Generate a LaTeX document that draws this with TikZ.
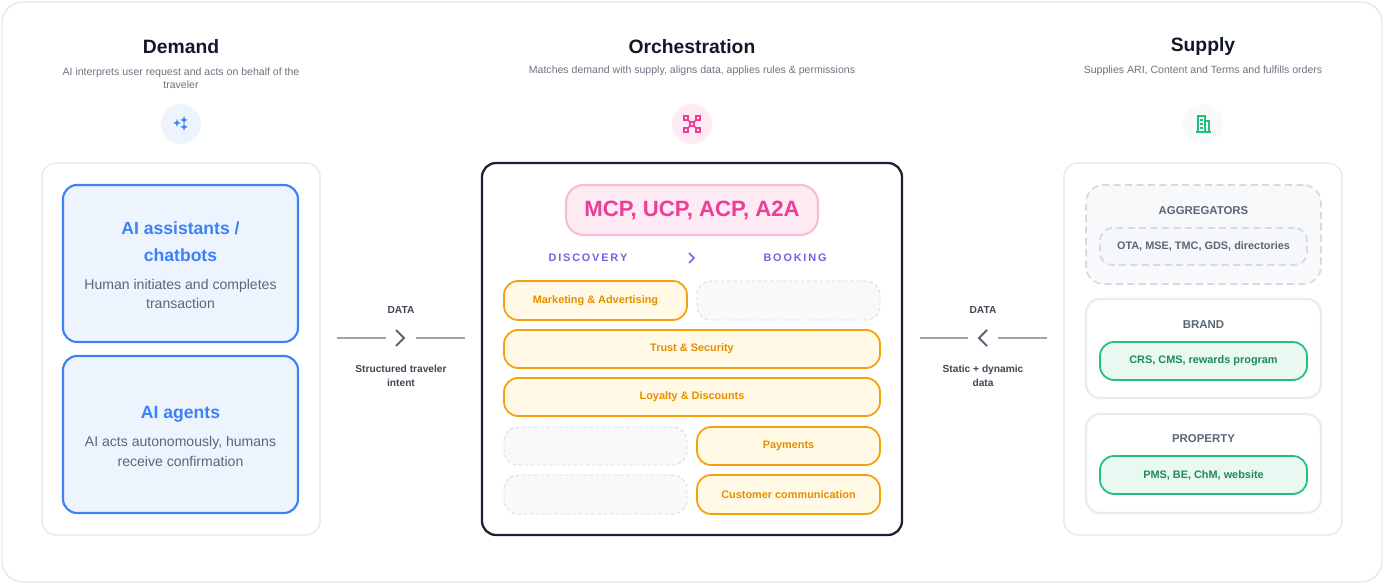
\documentclass[tikz,border=0pt]{standalone}
\usepackage{fontspec}
\setmainfont{Liberation Sans}
\usetikzlibrary{positioning}
\definecolor{framegray}{HTML}{E3E7EE}
\definecolor{panelgray}{HTML}{E8EDF3}
\definecolor{aiblue}{HTML}{3B82F6}
\definecolor{aibluefill}{HTML}{EEF4FE}
\definecolor{navy}{HTML}{1A2233}
\definecolor{mcppink}{HTML}{EC3D97}
\definecolor{mcpfill}{HTML}{FDEAF3}
\definecolor{mcpline}{HTML}{F6BCD8}
\definecolor{stepviolet}{HTML}{7C5CE0}
\definecolor{orangeline}{HTML}{F5A00B}
\definecolor{orangefill}{HTML}{FFF9E5}
\definecolor{orangetext}{HTML}{E58E00}
\definecolor{dashgray}{HTML}{D5DBE4}
\definecolor{emptyfill}{HTML}{F7F9FB}
\definecolor{slate}{HTML}{5B6678}
\definecolor{greenline}{HTML}{22C07A}
\definecolor{greenfill}{HTML}{E9F8F0}
\definecolor{greentext}{HTML}{1E8B57}
\definecolor{ink}{HTML}{111827}
\definecolor{subgray}{HTML}{6B7280}
\newcommand{\px}{0.02cm}
\tikzset{
  box/.style 2 args={rectangle, rounded corners=8pt, inner sep=0pt,
    minimum width=#1*\px, minimum height=#2*\px},
  panel/.style={draw=panelgray, line width=1pt, fill=white, rounded corners=16pt},
  aibox/.style={draw=aiblue, line width=1.2pt, fill=aibluefill, rounded corners=9pt},
  orangebox/.style={draw=orangeline, line width=1pt, fill=orangefill, rounded corners=6pt,
    text=orangetext, font=\fontsize{6.2}{7}\selectfont\bfseries},
  emptybox/.style={draw=dashgray, dash pattern=on 2pt off 1.5pt, line width=0.5pt, fill=emptyfill, rounded corners=6pt},
  greenbox/.style={draw=greenline, line width=1pt, fill=greenfill, rounded corners=6pt,
    text=greentext, font=\fontsize{6.2}{7}\selectfont\bfseries},
  suppbox/.style={draw=panelgray, line width=1.3pt, fill=white, rounded corners=9pt},
  coltitle/.style={font=\fontsize{11}{13}\selectfont\bfseries, text=ink},
  colsub/.style={font=\fontsize{6}{7.6}\selectfont, text=subgray, align=center},
  boxtitle/.style={font=\fontsize{10}{15.5}\selectfont\bfseries, text=aiblue, align=center},
  boxtext/.style={font=\fontsize{8}{11}\selectfont, text=slate, align=center},
  smallcap/.style={font=\fontsize{6.5}{8}\selectfont\bfseries, text=slate},
  datatext/.style={font=\fontsize{5.8}{8}\selectfont\bfseries, text=ink!80, align=center},
  dataline/.style={draw=slate!60, line width=0.8pt},
  iconbg/.style={circle, minimum size=40*\px, inner sep=0pt},
}
\begin{document}
\begin{tikzpicture}[x=\px, y=-\px]
    \useasboundingbox (0,0) rectangle (1384,584);
    \draw [framegray, line width=0.8pt, rounded corners=12pt] (2,2) rectangle (1382,582);
    % column headings
    \node [coltitle] (demandtitle) at (181,47) {Demand};
    \node [colsub] (demandsub) at (181,78) {AI interprets user request and acts on behalf of the\\traveler};
    \node [coltitle] (orchtitle) at (692,47) {Orchestration};
    \node [colsub] (orchsub) at (692,71) {Matches demand with supply, aligns data, applies rules \& permissions};
    \node [coltitle] (supplytitle) at (1203,47) {Supply};
    \node [colsub] (supplysub) at (1203,71) {Supplies ARI, Content and Terms and fulfills orders};
    % icons
    \node [iconbg, fill=aibluefill] (demandicon) at (181,124) {};
    \fill [aiblue] (177,119) -- (178,122) -- (181,123) -- (178,124) -- (177,127) -- (176,124) -- (173,123) -- (176,122) -- cycle
      (184,116) -- (185,119) -- (188,120) -- (185,121) -- (184,124) -- (183,121) -- (180,120) -- (183,119) -- cycle
      (184,123) -- (185,126) -- (188,127) -- (185,128) -- (184,131) -- (183,128) -- (180,127) -- (183,126) -- cycle;
    \node [iconbg, fill=mcpfill] (orchicon) at (692,124) {};
    \draw [mcppink, line width=0.9pt] (686,118) -- (698,130) (698,118) -- (686,130);
    \foreach \ix/\iy in {686/118, 698/118, 686/130, 698/130, 692/124}
      \draw [mcppink, line width=0.9pt, fill=mcpfill] (\ix-2,\iy-2) rectangle (\ix+2,\iy+2);
    \node [iconbg, fill=emptyfill] (supplyicon) at (1203,124) {};
    \draw [greenline, line width=0.8pt] (1196,132) -- (1211,132) (1198,132) -- (1198,116) -- (1205,116) -- (1205,132)
      (1205,121) -- (1209,121) -- (1209,132) (1200,120) -- (1203,120) (1200,124) -- (1203,124) (1200,128) -- (1203,128);
    % demand column
    \node [panel, box={278}{372}] (demand) at (181,349) {};
    \node [aibox, box={235}{157}] (assistants) at (180.5,263.5) {};
    \node [boxtitle] (assistantstitle) at (180.5,242) {AI assistants /\\chatbots};
    \node [boxtext] (assistantstext) at (180.5,294) {Human initiates and completes\\transaction};
    \node [aibox, box={235}{157}] (agents) at (180.5,434.5) {};
    \node [boxtitle] (agentstitle) at (180.5,414) {AI agents};
    \node [boxtext] (agentstext) at (180.5,451.5) {AI acts autonomously, humans\\receive confirmation};
    % orchestration column
    \node [panel, draw=navy, line width=1.3pt, rounded corners=20pt, box={420}{372}] (orch) at (692,349) {};
    \node [box={252}{50}, draw=mcpline, line width=1.2pt, fill=mcpfill, rounded corners=10pt,
      text=mcppink, font=\fontsize{12.6}{15}\selectfont\bfseries] (protocols) at (692,210) {MCP, UCP, ACP, A2A};
    \node [font=\fontsize{6.2}{7}\selectfont\bfseries, text=stepviolet] (discovery) at (588,258) {D\,I\,S\,C\,O\,V\,E\,R\,Y};
    \node [font=\fontsize{6.2}{7}\selectfont\bfseries, text=stepviolet] (booking) at (795,258) {B\,O\,O\,K\,I\,N\,G};
    \draw [stepviolet, line width=0.9pt] (689,253) -- (694,258) -- (689,263);
    \node [orangebox, box={183}{39}] (marketing) at (595.5,300.5) {Marketing \& Advertising};
    \node [emptybox, box={183}{39}] (emptya) at (788.5,300.5) {};
    \node [orangebox, box={376}{38}] (trust) at (692,349) {Trust \& Security};
    \node [orangebox, box={376}{38}] (loyalty) at (692,397) {Loyalty \& Discounts};
    \node [emptybox, box={183}{38}] (emptyb) at (595.5,446) {};
    \node [orangebox, box={183}{38}] (payments) at (788.5,446) {Payments};
    \node [emptybox, box={183}{39}] (emptyc) at (595.5,494.5) {};
    \node [orangebox, box={183}{39}] (communication) at (788.5,494.5) {Customer communication};
    % supply column
    \node [panel, box={278}{372}] (supply) at (1203,349) {};
    \node [box={235}{99}, draw=dashgray, line width=1pt, dash pattern=on 4pt off 2.5pt,
      fill=emptyfill, rounded corners=10pt] (aggregators) at (1203.5,234.5) {};
    \node [smallcap] (aggregatorstitle) at (1203.5,211) {AGGREGATORS};
    \node [box={207}{37}, draw=dashgray, line width=1pt, dash pattern=on 4pt off 2.5pt,
      fill=panelgray!45, rounded corners=7pt, text=slate, font=\fontsize{6.2}{7}\selectfont\bfseries]
      (aggregatorlist) at (1203.5,246.5) {OTA, MSE, TMC, GDS, directories};
    \node [suppbox, box={235}{99}] (brand) at (1203.5,348.5) {};
    \node [smallcap] (brandtitle) at (1203.5,325) {BRAND};
    \node [greenbox, box={207}{38}] (brandlist) at (1203.5,361) {CRS, CMS, rewards program};
    \node [suppbox, box={235}{99}] (property) at (1203.5,463.5) {};
    \node [smallcap] (propertytitle) at (1203.5,439) {PROPERTY};
    \node [greenbox, box={207}{38}] (propertylist) at (1203.5,475) {PMS, BE, ChM, website};
    % data links
    \node [datatext] (datal) at (401,310) {DATA};
    \node [inner sep=0pt, minimum size=30*\px] (chevl) at (401,338) {};
    \draw [slate, line width=1.2pt] (396,330) -- (404,338) -- (396,346);
    \coordinate (dlstart) at (337,338);
    \coordinate (dlend) at (465,338);
    \draw [dataline] (dlstart) -- (chevl.west) (chevl.east) -- (dlend);
    \node [datatext] (intent) at (401,376) {Structured traveler\\intent};
    \node [datatext] (datar) at (983,310) {DATA};
    \node [inner sep=0pt, minimum size=30*\px] (chevr) at (983,338) {};
    \draw [slate, line width=1.2pt] (987,330) -- (979,338) -- (987,346);
    \coordinate (drstart) at (920,338);
    \coordinate (drend) at (1047,338);
    \draw [dataline] (drstart) -- (chevr.west) (chevr.east) -- (drend);
    \node [datatext] (static) at (983,376) {Static + dynamic\\data};
\end{tikzpicture}
\end{document}
